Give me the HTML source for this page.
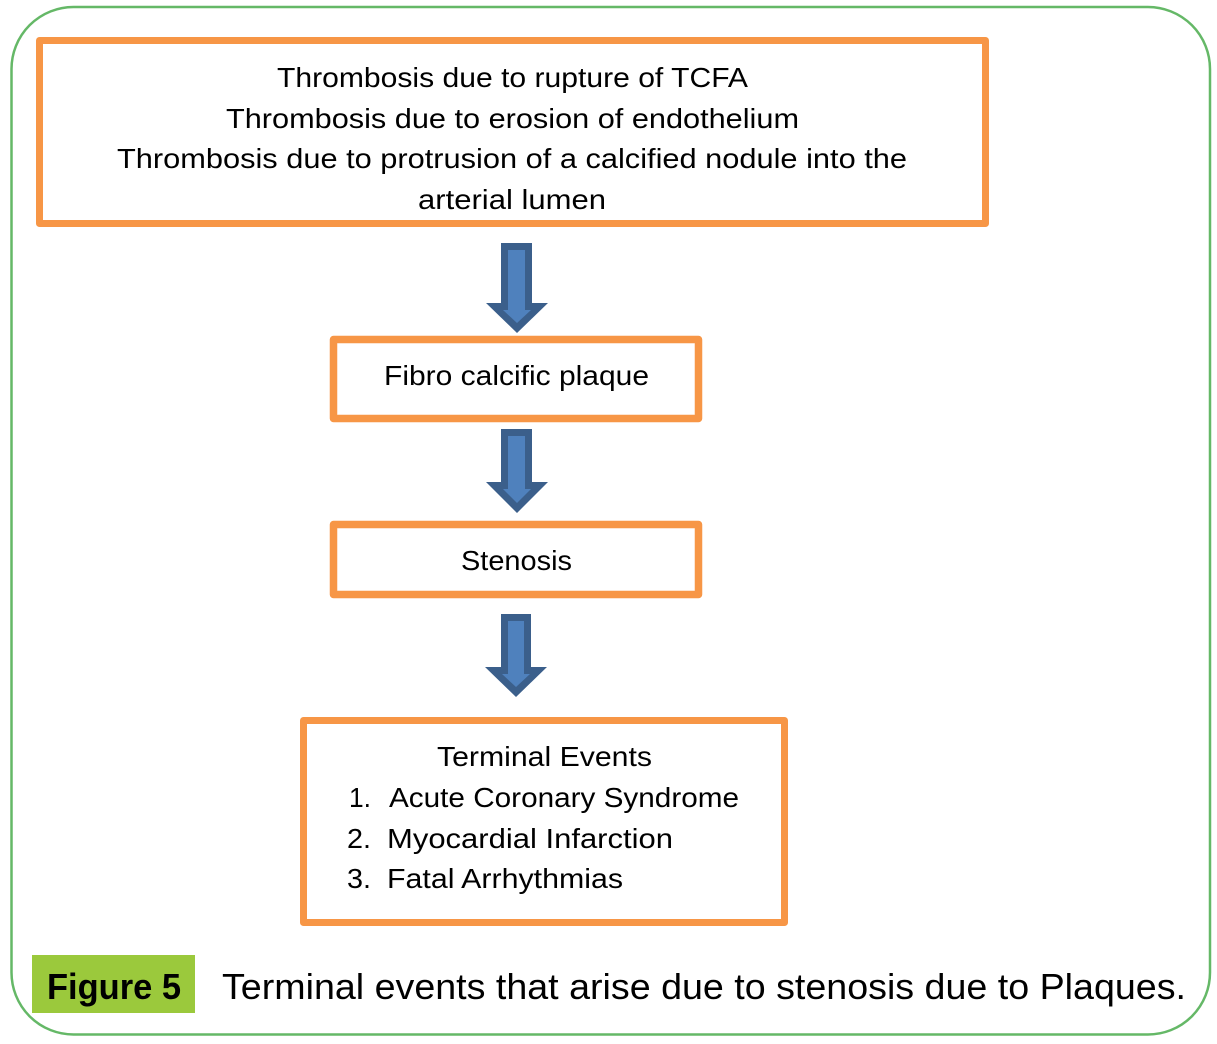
<!DOCTYPE html>
<html>
<head>
<meta charset="utf-8">
<style>
  html, body { margin: 0; padding: 0; background: #ffffff; }
  svg { display: block; }
  text { font-family: "Liberation Sans", "DejaVu Sans", sans-serif; fill: #000000; }
</style>
</head>
<body>
<svg width="1217" height="1044" viewBox="0 0 1217 1044" xmlns="http://www.w3.org/2000/svg">
  <!-- outer green rounded frame -->
  <rect x="11.5" y="7" width="1198.5" height="1027.5" rx="62" ry="62" fill="#ffffff" stroke="#65b867" stroke-width="2.5"/>

  <!-- Box 1 -->
  <rect x="39.5" y="40.5" width="946" height="183" fill="#ffffff" stroke="#f79646" stroke-width="7" stroke-linejoin="round"/>
  <text x="512.5" y="87" font-size="28" text-anchor="middle" textLength="471" lengthAdjust="spacingAndGlyphs">Thrombosis due to rupture of TCFA</text>
  <text x="512.5" y="128" font-size="28" text-anchor="middle" textLength="573" lengthAdjust="spacingAndGlyphs">Thrombosis due to erosion of endothelium</text>
  <text x="512" y="168" font-size="28" text-anchor="middle" textLength="790" lengthAdjust="spacingAndGlyphs">Thrombosis due to protrusion of a calcified nodule into the</text>
  <text x="512" y="209" font-size="28" text-anchor="middle" textLength="188" lengthAdjust="spacingAndGlyphs">arterial lumen</text>

  <!-- Arrow 1 -->
  <polygon points="501,243 532,243 532,303 548,303 517,333 486,303 501,303" fill="#3b5f8b"/>
  <polygon points="508,250 525,250 525,310 531,310 517,323 503,310 508,310" fill="#4f81bd"/>

  <!-- Box 2 -->
  <rect x="333.5" y="339.5" width="365" height="79" fill="#ffffff" stroke="#f79646" stroke-width="7.5" stroke-linejoin="round"/>
  <text x="516.5" y="385" font-size="28" text-anchor="middle" textLength="265" lengthAdjust="spacingAndGlyphs">Fibro calcific plaque</text>

  <!-- Arrow 2 -->
  <polygon points="501,429 532,429 532,482 548,482 517,513 486,482 501,482" fill="#3b5f8b"/>
  <polygon points="508,436 525,436 525,489 531,489 517,503 503,489 508,489" fill="#4f81bd"/>

  <!-- Box 3 -->
  <rect x="333.5" y="524.5" width="365" height="70" fill="#ffffff" stroke="#f79646" stroke-width="7.5" stroke-linejoin="round"/>
  <text x="516.5" y="570" font-size="28" text-anchor="middle" textLength="111" lengthAdjust="spacingAndGlyphs">Stenosis</text>

  <!-- Arrow 3 -->
  <polygon points="501,614 531,614 531,667 547,667 516,697 485,667 501,667" fill="#3b5f8b"/>
  <polygon points="508,621 524,621 524,674 530,674 516,687 502,674 508,674" fill="#4f81bd"/>

  <!-- Box 4 -->
  <rect x="303.5" y="720.5" width="481" height="202" fill="#ffffff" stroke="#f79646" stroke-width="7" stroke-linejoin="round"/>
  <text x="544.5" y="766" font-size="28" text-anchor="middle" textLength="215" lengthAdjust="spacingAndGlyphs">Terminal Events</text>
  <text x="349" y="807" font-size="28" textLength="22" lengthAdjust="spacingAndGlyphs">1.</text>
  <text x="389" y="807" font-size="28" textLength="350" lengthAdjust="spacingAndGlyphs">Acute Coronary Syndrome</text>
  <text x="347" y="848" font-size="28" textLength="24" lengthAdjust="spacingAndGlyphs">2.</text>
  <text x="387" y="848" font-size="28" textLength="286" lengthAdjust="spacingAndGlyphs">Myocardial Infarction</text>
  <text x="347" y="888" font-size="28" textLength="24" lengthAdjust="spacingAndGlyphs">3.</text>
  <text x="387" y="888" font-size="28" textLength="236" lengthAdjust="spacingAndGlyphs">Fatal Arrhythmias</text>

  <!-- Caption -->
  <rect x="32" y="955" width="163" height="58" fill="#9bc93c"/>
  <text x="47" y="999" font-size="36" font-weight="bold" textLength="134" lengthAdjust="spacingAndGlyphs">Figure 5</text>
  <text x="222" y="999" font-size="36" textLength="964" lengthAdjust="spacingAndGlyphs">Terminal events that arise due to stenosis due to Plaques.</text>
</svg>
</body>
</html>
